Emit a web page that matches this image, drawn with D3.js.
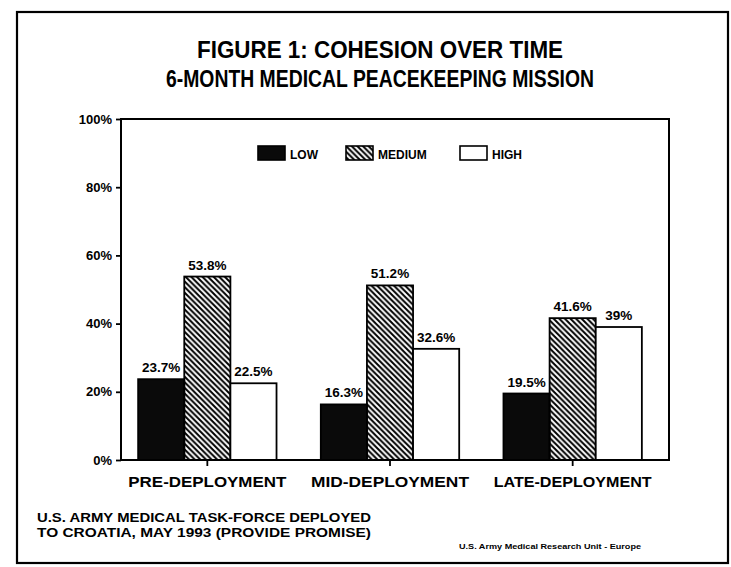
<!DOCTYPE html>
<html>
<head>
<meta charset="utf-8">
<script src="https://cdn.jsdelivr.net/npm/d3@7"></script>
<style>
  body { margin: 0; background: #fff; }
  text { font-family: "Liberation Sans", Arial, sans-serif; fill: #000; }
</style>
</head>
<body>
<svg id="chart"></svg>
<script>
// data
var categories = ["PRE-DEPLOYMENT", "MID-DEPLOYMENT", "LATE-DEPLOYMENT"];
var series = ["LOW", "MEDIUM", "HIGH"];
var lowValues = [23.7, 16.3, 19.5];
var mediumValues = [53.8, 51.2, 41.6];
var highValues = [22.5, 32.6, 39];
var valueLabels = [["23.7%", "53.8%", "22.5%"], ["16.3%", "51.2%", "32.6%"], ["19.5%", "41.6%", "39%"]];
var yTicks = [0, 20, 40, 60, 80, 100];

var width = 731, height = 567;
var svg = d3.select("#chart").attr("width", width).attr("height", height);

// hatch pattern for medium
var defs = svg.append("defs");
defs.append("pattern")
    .attr("id", "hatch")
    .attr("patternUnits", "userSpaceOnUse")
    .attr("width", 5.6)
    .attr("height", 5.6)
  .append("path")
    .attr("d", "M-1,-1 L6.6,6.6 M-2,3.6 L2,7.6 M3.6,-2 L7.6,2")
    .attr("stroke", "#000")
    .attr("stroke-width", 2);

var fills = { LOW: "#0a0a0a", MEDIUM: "url(#hatch)", HIGH: "#fff" };

// outer frame
svg.append("rect")
    .attr("x", 17).attr("y", 12)
    .attr("width", 711).attr("height", 551)
    .attr("fill", "none").attr("stroke", "#000").attr("stroke-width", 2.2);

// titles
svg.append("text").attr("x", 380).attr("y", 58)
    .attr("text-anchor", "middle").attr("font-size", 24).attr("font-weight", "bold")
    .attr("textLength", 366).attr("lengthAdjust", "spacingAndGlyphs")
    .text("FIGURE 1: COHESION OVER TIME");
svg.append("text").attr("x", 380).attr("y", 87)
    .attr("text-anchor", "middle").attr("font-size", 24).attr("font-weight", "bold")
    .attr("textLength", 428).attr("lengthAdjust", "spacingAndGlyphs")
    .text("6-MONTH MEDICAL PEACEKEEPING MISSION");

var plotLeft = 121, plotRight = 669, plotTop = 119, plotBottom = 460;

var y = d3.scaleLinear().domain([0, 100]).range([plotBottom, plotTop]);
var x0 = d3.scaleBand().domain(categories).range([116, 664]);
var x1 = d3.scaleBand().domain(series).range([0, x0.bandwidth()]).paddingOuter(0.48);

var rows = categories.map(function(c, i) {
  return { cat: c, values: [lowValues[i], mediumValues[i], highValues[i]], labels: valueLabels[i] };
});

// bars
var groups = svg.selectAll(".group").data(rows).enter().append("g")
    .attr("class", "group")
    .attr("transform", function(d) { return "translate(" + x0(d.cat) + ",0)"; });

groups.selectAll("rect")
    .data(function(d) { return series.map(function(s, j) { return { s: s, v: d.values[j], label: d.labels[j] }; }); })
    .enter().append("rect")
    .attr("x", function(d) { return x1(d.s); })
    .attr("y", function(d) { return y(d.v); })
    .attr("width", x1.bandwidth())
    .attr("height", function(d) { return plotBottom - y(d.v); })
    .attr("fill", function(d) { return fills[d.s]; })
    .attr("stroke", "#000").attr("stroke-width", 1.8);

groups.selectAll(".lbl")
    .data(function(d) { return series.map(function(s, j) { return { s: s, v: d.values[j], label: d.labels[j] }; }); })
    .enter().append("text")
    .attr("class", "lbl")
    .attr("x", function(d) { return x1(d.s) + x1.bandwidth() / 2; })
    .attr("y", function(d) { return y(d.v) - 7; })
    .attr("text-anchor", "middle")
    .attr("font-size", 13.5).attr("font-weight", "bold")
    .text(function(d) { return d.label; });

// plot box
svg.append("rect")
    .attr("x", plotLeft).attr("y", plotTop)
    .attr("width", plotRight - plotLeft).attr("height", plotBottom - plotTop)
    .attr("fill", "none").attr("stroke", "#000").attr("stroke-width", 2);

// y axis
var yAxis = svg.append("g")
    .attr("transform", "translate(" + plotLeft + ",0)")
    .call(d3.axisLeft(y).tickValues(yTicks).tickSize(5).tickPadding(4)
      .tickFormat(function(d) { return d + "%"; }));
yAxis.select(".domain").remove();
yAxis.selectAll("line").attr("stroke", "#000").attr("stroke-width", 1.8);
yAxis.selectAll("text")
    .attr("font-size", 13).attr("font-weight", "bold")
    .style("font-family", "'Liberation Sans', Arial, sans-serif");

// x axis
var xAxis = svg.append("g")
    .attr("transform", "translate(0," + plotBottom + ")")
    .call(d3.axisBottom(x0).tickSize(6).tickPadding(10));
xAxis.select(".domain").remove();
xAxis.selectAll("line").attr("stroke", "#000").attr("stroke-width", 1.8);
xAxis.selectAll("text")
    .attr("font-size", 15).attr("font-weight", "bold")
    .attr("textLength", 158).attr("lengthAdjust", "spacingAndGlyphs")
    .style("font-family", "'Liberation Sans', Arial, sans-serif");

// legend
var legendX = [258, 346, 460];
var legend = svg.selectAll(".legend").data(series).enter().append("g")
    .attr("class", "legend")
    .attr("transform", function(d, i) { return "translate(" + legendX[i] + ",146)"; });
legend.append("rect")
    .attr("width", 27).attr("height", 14)
    .attr("fill", function(d) { return fills[d]; })
    .attr("stroke", "#000").attr("stroke-width", 1.6);
legend.append("text")
    .attr("x", 32).attr("y", 13)
    .attr("font-size", 12).attr("font-weight", "bold")
    .text(function(d) { return d; });

// footnotes
svg.append("text").attr("x", 37).attr("y", 522)
    .attr("font-size", 12).attr("font-weight", "bold")
    .attr("textLength", 334).attr("lengthAdjust", "spacingAndGlyphs")
    .text("U.S. ARMY MEDICAL TASK-FORCE DEPLOYED");
svg.append("text").attr("x", 37).attr("y", 537)
    .attr("font-size", 12).attr("font-weight", "bold")
    .attr("textLength", 334).attr("lengthAdjust", "spacingAndGlyphs")
    .text("TO CROATIA, MAY 1993 (PROVIDE PROMISE)");
svg.append("text").attr("x", 459).attr("y", 549)
    .attr("font-size", 7.5).attr("font-weight", "bold")
    .attr("textLength", 182).attr("lengthAdjust", "spacingAndGlyphs")
    .text("U.S. Army Medical Research Unit - Europe");
</script>
</body>
</html>
